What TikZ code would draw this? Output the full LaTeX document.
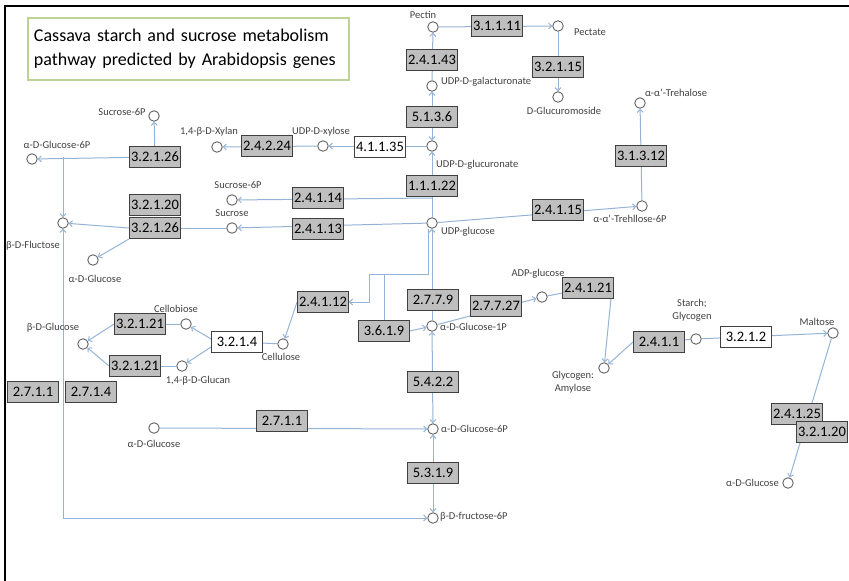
\documentclass[tikz,border=0pt]{standalone}
\usepackage{fontspec}
\setmainfont{Carlito}
\usetikzlibrary{arrows.meta, backgrounds, shadows}
\definecolor{path-blue}{RGB}{149,179,215}
\definecolor{ec-gray}{RGB}{191,191,191}
\definecolor{ec-edge}{RGB}{64,64,64}
\definecolor{met-edge}{RGB}{100,100,100}
\definecolor{lbl-text}{RGB}{64,64,64}
\definecolor{title-green}{RGB}{190,210,150}

\begin{document}
\begin{tikzpicture}[x=1pt, y=-1pt,
  ec/.style={draw=ec-edge, fill=ec-gray, line width=0.9pt, minimum width=51pt, minimum height=21pt, inner sep=1pt, font=\fontsize{14.5}{14.5}\selectfont, drop shadow={shadow xshift=0.8pt, shadow yshift=-0.8pt, opacity=0.7, fill=black!70}},
  ecw/.style={ec, fill=white},
  met/.style={circle, draw=met-edge, fill=white, line width=0.9pt, minimum size=10.5pt, inner sep=0pt},
  lbl/.style={font=\fontsize{10.5}{13}\selectfont, text=lbl-text, inner sep=0pt, align=center},
  link/.style={draw=path-blue, line width=1pt},
  arr/.style={link, -{Straight Barb[length=3pt,width=6pt]}},
  arrs/.style={link, {Straight Barb[length=3pt,width=6pt]}-{Straight Barb[length=3pt,width=6pt]}},
]
  \useasboundingbox (0,0) rectangle (849,581);
  \draw[line width=1.5pt] (5,581) -- (5,6) -- (849,6);

  % Title
  \node[draw=title-green, line width=1.5pt, minimum width=321pt, minimum height=62pt, text width=309pt, align=left, inner sep=0pt, font=\fontsize{18}{24}\selectfont] (title) at (188.5,49) {Cassava starch and sucrose metabolism\\pathway predicted by Arabidopsis genes};

  % Pectin branch
  \node[met] (pectin) at (433,27) {};
  \node[lbl] (pectin-t) at (423,15) {Pectin};
  \node[ec] (e31111) at (497,26) {3.1.1.11};
  \node[met] (pectate) at (558,26) {};
  \node[lbl] (pectate-t) at (590,32) {Pectate};
  \node[ec] (e32115) at (558,67) {3.2.1.15};
  \node[met] (glucur) at (558,97) {};
  \node[lbl] (glucur-t) at (564,111) {D-Glucuromoside};
  \node[ec] (e24143) at (432,60) {2.4.1.43};
  \node[met] (udpgalact) at (432,86) {};
  \node[lbl, anchor=west] (udpgalact-t) at (441,82) {UDP-D-galacturonate};
  \node[ec] (e5136) at (432,117) {5.1.3.6};
  \node[met] (udpglucur) at (432,146) {};
  \node[lbl, anchor=west] (udpglucur-t) at (436,165) {UDP-D-glucuronate};
  \node[ec] (e11122) at (432,186) {1.1.1.22};

  % Xylan branch
  \node[ecw] (e41135) at (380,147) {4.1.1.35};
  \node[met] (udpxyl) at (323,146) {};
  \node[lbl] (udpxyl-t) at (321,132) {UDP-D-xylose};
  \node[ec] (e24224) at (267,146) {2.4.2.24};
  \node[met] (xylan) at (217,147) {};
  \node[lbl] (xylan-t) at (209,132) {1,4-β-D-Xylan};

  % Sucrose
  \node[ec] (e32126a) at (155,157) {3.2.1.26};
  \node[met] (suc6ptop) at (154,116) {};
  \node[lbl] (suc6ptop-t) at (122,112) {Sucrose-6P};
  \node[met] (glc6pleft) at (32,159) {};
  \node[lbl] (glc6pleft-t) at (57,145) {α-D-Glucose-6P};
  \node[met] (fruc) at (63,223) {};
  \node[lbl] (fruc-t) at (33,246) {β-D-Fluctose};
  \node[ec] (e32120) at (155,205) {3.2.1.20};
  \node[ec] (e32126b) at (155,228) {3.2.1.26};
  \node[met] (glcA) at (93,260) {};
  \node[lbl] (glcA-t) at (95,279) {α-D-Glucose};
  \node[met] (suc6p) at (232,200) {};
  \node[lbl] (suc6p-t) at (238,185) {Sucrose-6P};
  \node[met] (sucrose) at (232,228) {};
  \node[lbl] (sucrose-t) at (232,213) {Sucrose};
  \node[ec] (e24114) at (318,198) {2.4.1.14};
  \node[ec] (e24113) at (318,229) {2.4.1.13};
  \node[met] (udpglc) at (432,223) {};
  \node[lbl, anchor=west] (udpglc-t) at (441,232) {UDP-glucose};

  % Trehalose
  \node[ec] (e24115) at (558,210) {2.4.1.15};
  \node[met] (tre6p) at (642,206) {};
  \node[lbl] (tre6p-t) at (630,219) {α-α'-Trehllose-6P};
  \node[ec] (e31312) at (641,156) {3.1.3.12};
  \node[met] (trehalose) at (640,103) {};
  \node[lbl] (trehalose-t) at (676,93) {α-α'-Trehalose};

  % Starch and glycogen
  \node[ec] (e2779) at (433,300) {2.7.7.9};
  \node[met] (glc1p) at (432,326) {};
  \node[lbl, anchor=west] (glc1p-t) at (440,327) {α-D-Glucose-1P};
  \node[ec] (e27727) at (496,306) {2.7.7.27};
  \node[met] (adpglc) at (542,297) {};
  \node[lbl] (adpglc-t) at (538,274) {ADP-glucose};
  \node[ec] (e24121) at (588,288) {2.4.1.21};
  \node[met] (glycogen) at (604,368) {};
  \node[lbl] (glycogen-t) at (573,382) {Glycogen:\\Amylose};
  \node[ec] (e2411) at (659,342) {2.4.1.1};
  \node[met] (starch) at (696,339) {};
  \node[lbl] (starch-t) at (692,310) {Starch;\\Glycogen};
  \node[ecw] (e3212) at (746,337) {3.2.1.2};
  \node[met] (maltose) at (833,333) {};
  \node[lbl] (maltose-t) at (817,322) {Maltose};
  \node[ec] (e24125) at (797,414) {2.4.1.25};
  \node[ec] (e32120r) at (822,432) {3.2.1.20};
  \node[met] (glcright) at (788,483) {};
  \node[lbl, anchor=east] (glcright-t) at (779,483) {α-D-Glucose};

  % Hexose phosphates
  \node[ec] (e5422) at (433,382) {5.4.2.2};
  \node[met] (glc6p) at (433,429) {};
  \node[lbl, anchor=west] (glc6p-t) at (441,429) {α-D-Glucose-6P};
  \node[ec] (e5319) at (433,473) {5.3.1.9};
  \node[met] (fru6p) at (433,518) {};
  \node[lbl, anchor=west] (fru6p-t) at (440,517) {β-D-fructose-6P};
  \node[met] (glcB) at (154,428) {};
  \node[lbl] (glcB-t) at (154,444) {α-D-Glucose};
  \node[ec] (e2711) at (282,421) {2.7.1.1};
  \node[ec] (e2711l) at (33,392) {2.7.1.1};
  \node[ec] (e2714) at (91,392) {2.7.1.4};

  % Cellulose
  \node[ec] (e3619) at (384,331) {3.6.1.9};
  \node[ec] (e24112) at (323,302) {2.4.1.12};
  \node[met] (cellulose) at (283,344) {};
  \node[lbl] (cellulose-t) at (281,357) {Cellulose};
  \node[ecw] (e3214) at (237,342) {3.2.1.4};
  \node[met] (cellobiose) at (186,324) {};
  \node[lbl] (cellobiose-t) at (176,309) {Cellobiose};
  \node[met] (glucan) at (182,366) {};
  \node[lbl] (glucan-t) at (198,381) {1,4-β-D-Glucan};
  \node[ec] (e32121a) at (140,324) {3.2.1.21};
  \node[ec] (e32121b) at (135,366) {3.2.1.21};
  \node[met] (bglc) at (83,344) {};
  \node[lbl] (bglc-t) at (53,328) {β-D-Glucose};

  \coordinate (bend) at (369,274);

  \begin{scope}[on background layer]
    \draw[arr] (pectin) -- (pectate);
    \draw[arr] (pectate) -- (glucur);
    \draw[arr] (udpgalact) -- (pectin);
    \draw[arrs] (udpglucur) -- (udpgalact);
    \draw[arr] (udpglc) -- (udpglucur);
    \draw[arr] (udpglucur) -- (udpxyl);
    \draw[arr] (udpxyl) -- (xylan);
    \draw[arr] (e32126a) -- (suc6ptop);
    \draw[arr] (e32126a) -- (glc6pleft);
    \draw[arr] (fruc |- e32126a) -- (fruc);
    \draw[arr] (e24114 -| udpglc) -- (suc6p);
    \draw[arr] (udpglc) -- (sucrose);
    \draw[link] (sucrose) -- (e32126b);
    \draw[arr] (e32126b.west) -- (fruc);
    \draw[arr] (e32126b.south west) -- (glcA);
    \draw[arr] (udpglc) -- (tre6p);
    \draw[arr] (tre6p) -- (trehalose);
    \draw[arr] (glc1p) -- (udpglc);
    \draw[arr] ([xshift=-3.5pt]udpglc.south) |- (bend) |- (e24112);
    \draw[link] (e3619.north) -- (e3619.north |- bend);
    \draw[arr] (e3619.east) -- (glc1p);
    \draw[arrs] (glc1p) -- (glc6p);
    \draw[arrs] (glc6p) -- (fru6p);
    \draw[arr] (glcB) -- (glc6p);
    \draw[arrs] (fruc) |- (fru6p);
    \draw[arr] (glc1p) -- (adpglc);
    \draw[link] (adpglc) -- (e24121);
    \draw[arr] ([xshift=-3pt]e24121.south east) -- (glycogen);
    \draw[link] (starch) -- (e2411);
    \draw[arr] (e2411.west) -- (glycogen);
    \draw[arr] (starch) -- (maltose);
    \draw[arr] (maltose) -- (glcright);
    \draw[arr] (e24112.west) -- (cellulose);
    \draw[link] (cellulose) -- (e3214);
    \draw[arr] ([yshift=3pt]e3214.west) -- (cellobiose);
    \draw[arr] ([yshift=-5pt]e3214.west) -- (glucan);
    \draw[link] (cellobiose) -- (e32121a);
    \draw[arr] (e32121a.west) -- (bglc);
    \draw[link] (glucan) -- (e32121b);
    \draw[arr] (e32121b.west) -- (bglc);
  \end{scope}
\end{tikzpicture}
\end{document}
